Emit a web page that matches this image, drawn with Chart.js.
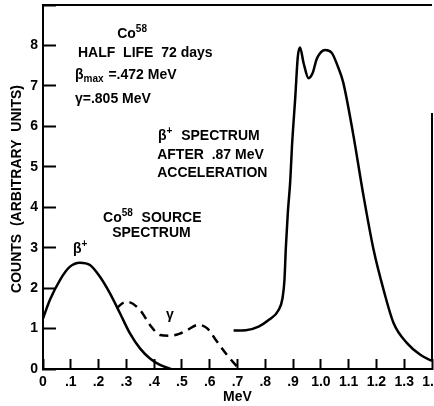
<!DOCTYPE html>
<html>
<head>
<meta charset="utf-8">
<script src="https://cdn.jsdelivr.net/npm/chart.js@4"></script>
<style>
  html, body { margin: 0; padding: 0; background: #fff; }
  #wrap { width: 434px; height: 406px; position: relative; }
</style>
</head>
<body>
<div id="wrap"><canvas id="grafico"></canvas></div>
<script>
// Co58 source spectrum, beta+ (solid)
const betaX = [0, 0.025, 0.061, 0.097, 0.133, 0.169, 0.205, 0.241, 0.277, 0.313, 0.349, 0.385, 0.421, 0.46];
const betaY = [1.25, 1.71, 2.2, 2.53, 2.63, 2.57, 2.28, 1.87, 1.38, 0.88, 0.51, 0.26, 0.10, 0];

// gamma part of the source spectrum (dashed)
const gammaX = [0.265, 0.285, 0.304, 0.349, 0.385, 0.421, 0.457, 0.49, 0.518, 0.559, 0.59, 0.626, 0.662, 0.706];
const gammaY = [1.50, 1.62, 1.66, 1.46, 1.09, 0.84, 0.82, 0.87, 0.96, 1.09, 1.01, 0.68, 0.35, 0];

// beta+ spectrum after .87 MeV acceleration
const accelX = [0.686, 0.73, 0.776, 0.812, 0.848, 0.862, 0.869, 0.874, 0.881, 0.89, 0.896, 0.908, 0.917, 0.925,
  0.938, 0.956, 0.97, 0.986, 1.016, 1.04, 1.06, 1.08, 1.116, 1.152, 1.19, 1.226, 1.262, 1.31, 1.358, 1.4];
const accelY = [0.95, 0.96, 1.05, 1.21, 1.46, 1.75, 2.2, 3.0, 3.85, 4.67, 5.5, 6.73, 7.72, 7.95,
  7.56, 7.19, 7.31, 7.68, 7.89, 7.81, 7.5, 7.1, 5.82, 4.34, 2.94, 1.95, 1.13, 0.64, 0.35, 0.2];

// tick labels
const xTickLabels = ['0', '.1', '.2', '.3', '.4', '.5', '.6', '.7', '.8', '.9', '1.0', '1.1', '1.2', '1.3', '1.4'];
const yTickLabels = ['0', '1', '2', '3', '4', '5', '6', '7', '8'];

const FONTE = 'bold 14px "Liberation Sans"';
const FONTE_PEQ = 'bold 10px "Liberation Sans"';

// textos do grafico, posicionados em coordenadas de dados (MeV, contagens)
const anotacoes = [
  { x: 0.267, y: 8.28, partes: [['Co', 'n'], ['58', 'sup']] },
  { x: 0.126, y: 7.81, partes: [['HALF  LIFE  72 days', 'n']] },
  { x: 0.115, y: 7.27, partes: [['β', 'n'], ['max', 'sub'], [' =.472 MeV', 'n']] },
  { x: 0.115, y: 6.68, partes: [['γ=.805 MeV', 'n']] },
  { x: 0.414, y: 5.76, partes: [['β', 'n'], ['+', 'sup'], ['  SPECTRUM', 'n']] },
  { x: 0.411, y: 5.29, partes: [['AFTER  .87 MeV', 'n']] },
  { x: 0.411, y: 4.85, partes: [['ACCELERATION', 'n']] },
  { x: 0.216, y: 3.73, partes: [['Co', 'n'], ['58', 'sup'], ['  SOURCE', 'n']] },
  { x: 0.249, y: 3.36, partes: [['SPECTRUM', 'n']] },
  { x: 0.108, y: 2.97, partes: [['β', 'n'], ['+', 'sup']] },
  { x: 0.443, y: 1.34, partes: [['γ', 'n']] },
];

const pontos = (xs, ys) => xs.map((x, i) => ({ x: x, y: ys[i] }));

// zera o recuo que os rotulos impoem a area do grafico
const semRecuo = (s) => {
  s.paddingTop = 0;
  s.paddingBottom = 0;
  s.paddingLeft = 0;
  s.paddingRight = 0;
};

// desenha moldura parcial, titulos e anotacoes
const pluginExtras = {
  id: 'extras',
  afterDraw(chart) {
    const ctx = chart.ctx;
    const xs = chart.scales.x;
    const ys = chart.scales.y;
    const area = chart.chartArea;
    ctx.save();
    ctx.setLineDash([]);
    ctx.strokeStyle = '#000';
    ctx.fillStyle = '#000';
    ctx.lineWidth = 2;

    // borda superior
    ctx.beginPath();
    ctx.moveTo(area.left, area.top);
    ctx.lineTo(area.right, area.top);
    ctx.stroke();

    // borda direita (parcial, como no original)
    ctx.beginPath();
    ctx.moveTo(xs.getPixelForValue(1.4), ys.getPixelForValue(6.33));
    ctx.lineTo(xs.getPixelForValue(1.4), ys.getPixelForValue(0.2));
    ctx.stroke();

    ctx.textBaseline = 'middle';

    // titulo do eixo x
    ctx.font = FONTE;
    ctx.textAlign = 'center';
    ctx.fillText('MeV', xs.getPixelForValue(0.7), area.bottom + 28);

    // titulo do eixo y
    ctx.save();
    ctx.translate(17, ys.getPixelForValue(4.45));
    ctx.rotate(-Math.PI / 2);
    ctx.fillText('COUNTS  (ARBITRARY  UNITS)', 0, 0);
    ctx.restore();

    // anotacoes
    ctx.textAlign = 'left';
    anotacoes.forEach((a) => {
      let px = xs.getPixelForValue(a.x);
      const py = ys.getPixelForValue(a.y);
      a.partes.forEach(([txt, tipo]) => {
        let dy = 0;
        if (tipo === 'n') ctx.font = FONTE;
        else { ctx.font = FONTE_PEQ; dy = tipo === 'sup' ? -5 : 4; }
        ctx.fillText(txt, px, py + dy);
        px += ctx.measureText(txt).width + (tipo === 'n' ? 0 : 1);
      });
    });
    ctx.restore();
  },
};

const grafico = new Chart(document.getElementById('grafico'), {
  type: 'line',
  data: {
    datasets: [
      { data: pontos(betaX, betaY), borderColor: '#000', borderWidth: 2.5 },
      { data: pontos(gammaX, gammaY), borderColor: '#000', borderWidth: 2.5, borderDash: [9, 6] },
      { data: pontos(accelX, accelY), borderColor: '#000', borderWidth: 2.5 },
    ],
  },
  options: {
    responsive: true,
    maintainAspectRatio: false,
    animation: false,
    events: [],
    layout: { padding: { top: 5, right: 2, left: 0, bottom: 0 } },
    elements: {
      point: { radius: 0 },
      line: { cubicInterpolationMode: 'monotone', fill: false },
    },
    plugins: { legend: { display: false }, tooltip: { enabled: false } },
    scales: {
      x: {
        type: 'linear',
        min: 0,
        max: 1.4,
        afterFit: (s) => { s.height = 37; semRecuo(s); },
        // ticks para dentro: comprimento negativo
        grid: {
          display: true,
          drawOnChartArea: false,
          drawTicks: true,
          tickLength: -10,
          tickWidth: 2,
          tickColor: '#000',
        },
        border: { display: true, color: '#000', width: 2 },
        ticks: {
          stepSize: 0.1,
          autoSkip: false,
          maxRotation: 0,
          padding: 15,
          color: '#000',
          font: { family: 'Liberation Sans', size: 14, weight: 'bold' },
          callback: (v, i) => xTickLabels[i],
        },
      },
      y: {
        min: 0,
        max: 9,
        afterFit: (s) => { s.width = 43; semRecuo(s); },
        grid: {
          display: true,
          drawOnChartArea: false,
          drawTicks: true,
          tickLength: -13,
          tickWidth: 2,
          tickColor: '#000',
        },
        border: { display: true, color: '#000', width: 2 },
        ticks: {
          stepSize: 1,
          padding: 18,
          color: '#000',
          font: { family: 'Liberation Sans', size: 14, weight: 'bold' },
          callback: (v) => (v <= 8 ? yTickLabels[v] : ''),
        },
      },
    },
  },
  plugins: [pluginExtras],
});
</script>
</body>
</html>
